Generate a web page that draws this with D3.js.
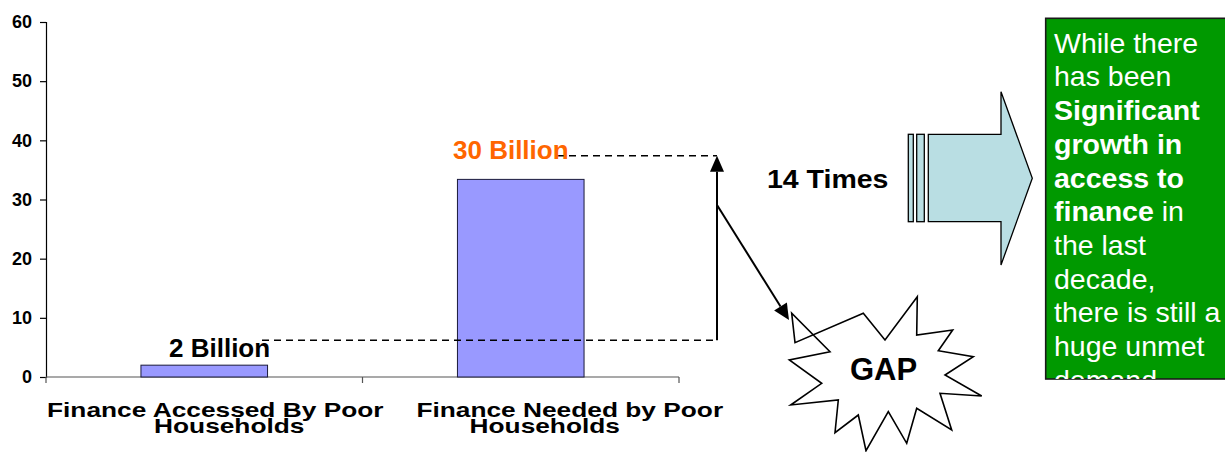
<!DOCTYPE html>
<html>
<head>
<meta charset="utf-8">
<script src="https://cdn.jsdelivr.net/npm/d3@7"></script>
<style>
  html, body { margin: 0; padding: 0; background: #fff; }
  svg { display: block; font-family: "Liberation Sans", Arial, Helvetica, sans-serif; }
</style>
</head>
<body>
<svg id="chart" width="1225" height="452"></svg>
<script>
// ---- data ----
const categories = ["Finance Accessed By Poor Households", "Finance Needed by Poor Households"];
const categoryLines = [["Finance Accessed By Poor", "Households"], ["Finance Needed by Poor", "Households"]];
const values = [2, 33.4];
const valueLabels = ["2 Billion", "30 Billion"];
const yTicks = [0, 10, 20, 30, 40, 50, 60];
const gapLevels = [6.2, 37.4];         // dashed reference levels (chart units)
const timesLabel = "14 Times";
const gapLabel = "GAP";
const boxLines = [
  [["While there", false]],
  [["has been", false]],
  [["Significant", true]],
  [["growth in", true]],
  [["access to", true]],
  [["finance", true], [" in", false]],
  [["the last", false]],
  [["decade,", false]],
  [["there is still a", false]],
  [["huge unmet", false]],
  [["demand", false]]
];

// ---- layout ----
const svg = d3.select("#chart");
const x0 = 46, x1 = 679, yTop = 22, yBot = 377;
const x = d3.scaleBand().domain(categories).range([x0, x1]).paddingInner(0.6).paddingOuter(0.3);
const y = d3.scaleLinear().domain([0, 60]).range([yBot, yTop]);

// y axis
const yAxis = svg.append("g").attr("transform", `translate(${x0},0)`)
  .call(d3.axisLeft(y).tickValues(yTicks).tickSize(6).tickPadding(8));
yAxis.select(".domain").attr("stroke", "#000").attr("stroke-width", 1.2);
yAxis.selectAll(".tick line").attr("stroke", "#000").attr("stroke-width", 1.2);
yAxis.selectAll(".tick text").attr("font-size", 18).attr("font-weight", "bold")
  .attr("fill", "#000").attr("font-family", "Liberation Sans, Arial, sans-serif");

// x axis line with boundary ticks
const step = x.step();
const bounds = [x0, x0 + step, x0 + 2 * step];
svg.append("line").attr("x1", x0).attr("x2", x1).attr("y1", yBot).attr("y2", yBot)
  .attr("stroke", "#555").attr("stroke-width", 1.2);
svg.selectAll(".xtick").data(bounds).enter().append("line")
  .attr("x1", d => d).attr("x2", d => d).attr("y1", yBot).attr("y2", yBot + 6)
  .attr("stroke", "#555").attr("stroke-width", 1.2);

// bars
svg.selectAll(".bar").data(values).enter().append("rect")
  .attr("x", (d, i) => x(categories[i]))
  .attr("y", d => y(d))
  .attr("width", x.bandwidth())
  .attr("height", d => y(0) - y(d))
  .attr("fill", "#9999FF").attr("stroke", "#1a1a3a").attr("stroke-width", 1);

// category labels (vertically compressed like the original)
const lineDx = [[11, 25], [49, 24]];
categoryLines.forEach((lines, i) => {
  const cx = x(categories[i]) + x.bandwidth() / 2;
  lines.forEach((t, j) => {
    svg.append("text")
      .attr("transform", `translate(${cx + lineDx[i][j]},${416.5 + j * 16.5}) scale(1,0.79)`)
      .attr("text-anchor", "middle").attr("font-size", 26.3).attr("font-weight", "bold")
      .attr("fill", "#000").text(t);
  });
});

// dashed reference lines and arrows
const arrowX = 717;
const yLow = y(gapLevels[0]), yHigh = y(gapLevels[1]);
svg.append("line").attr("x1", 262).attr("x2", arrowX).attr("y1", yLow).attr("y2", yLow)
  .attr("stroke", "#000").attr("stroke-width", 1.5).attr("stroke-dasharray", "7,5");
svg.append("line").attr("x1", 557).attr("x2", arrowX).attr("y1", yHigh).attr("y2", yHigh)
  .attr("stroke", "#000").attr("stroke-width", 1.5).attr("stroke-dasharray", "7,5");

// value labels
const labelColors = ["#000", "#FF6600"];
const labelPos = [[169, 357], [453, 159]];
valueLabels.forEach((t, i) => {
  svg.append("text").attr("x", labelPos[i][0]).attr("y", labelPos[i][1])
    .attr("font-size", 26).attr("font-weight", "bold").attr("fill", labelColors[i]).text(t);
});

// arrows
function arrow(xa, ya, xb, yb, len, half) {
  const dx = xb - xa, dy = yb - ya, L = Math.hypot(dx, dy);
  const ux = dx / L, uy = dy / L;
  const bx = xb - ux * len, by = yb - uy * len;
  svg.append("line").attr("x1", xa).attr("y1", ya).attr("x2", bx).attr("y2", by)
    .attr("stroke", "#000").attr("stroke-width", 2);
  svg.append("polygon")
    .attr("points", [[xb, yb], [bx - uy * half, by + ux * half], [bx + uy * half, by - ux * half]].map(p => p.join(",")).join(" "))
    .attr("fill", "#000");
}
arrow(arrowX, yLow, arrowX, yHigh, 16, 7);
arrow(arrowX, 205, 789, 320, 16, 7.5);

// 14 Times
svg.append("text").attr("transform", "translate(767,188.3) scale(1,0.92)")
  .attr("font-size", 28.5).attr("font-weight", "bold").attr("fill", "#000").text(timesLabel);

// block arrow
const arrowFill = "#B9DEE3";
svg.append("rect").attr("x", 908.3).attr("y", 134.3).attr("width", 5).attr("height", 87.4)
  .attr("fill", arrowFill).attr("stroke", "#000").attr("stroke-width", 1.3);
svg.append("rect").attr("x", 916.7).attr("y", 134.3).attr("width", 7.6).attr("height", 87.4)
  .attr("fill", arrowFill).attr("stroke", "#000").attr("stroke-width", 1.3);
svg.append("path")
  .attr("d", "M928.3,134.3 L1001,134.3 L1001,91.7 L1032.3,178.3 L1001,265 L1001,221.7 L928.3,221.7 Z")
  .attr("fill", arrowFill).attr("stroke", "#000").attr("stroke-width", 1.3);

// starburst
const star = [[791.7,313.3],[795,342.7],[863.3,313.3],[885,340],[917.3,296.7],[916.7,335],
  [952.7,330],[938.3,350.7],[973.3,356.7],[945,375],[981.7,396],[940,393.3],[951.7,430],
  [916.7,408.3],[906.7,443.3],[888.3,411.7],[866,450.7],[858.3,415],[835,432.7],[838.3,400],
  [790.7,405],[821.7,383.3],[789.3,360],[830,351.7]];
svg.append("polygon").attr("points", star.map(p => p.join(",")).join(" "))
  .attr("fill", "#fff").attr("stroke", "#000").attr("stroke-width", 1.6);
svg.append("text").attr("x", 883.5).attr("y", 380).attr("text-anchor", "middle")
  .attr("font-size", 31).attr("font-weight", "bold").attr("fill", "#000").text(gapLabel);

// green text box
const bx0 = 1045.7, by0 = 18.3, bx1 = 1240, by1 = 379;
svg.append("defs").append("clipPath").attr("id", "boxclip")
  .append("rect").attr("x", bx0).attr("y", by0).attr("width", bx1 - bx0).attr("height", by1 - by0);
svg.append("rect").attr("x", bx0).attr("y", by0).attr("width", bx1 - bx0).attr("height", by1 - by0)
  .attr("fill", "#009900").attr("stroke", "#1a1a1a").attr("stroke-width", 1.6);
const tg = svg.append("g").attr("clip-path", "url(#boxclip)");
boxLines.forEach((parts, i) => {
  const t = tg.append("text").attr("x", 1054).attr("y", 52.7 + i * 33.7)
    .attr("font-size", 28.5).attr("fill", "#fff");
  parts.forEach(([s, b]) => t.append("tspan").attr("font-weight", b ? "bold" : "normal").text(s));
});
</script>
</body>
</html>
